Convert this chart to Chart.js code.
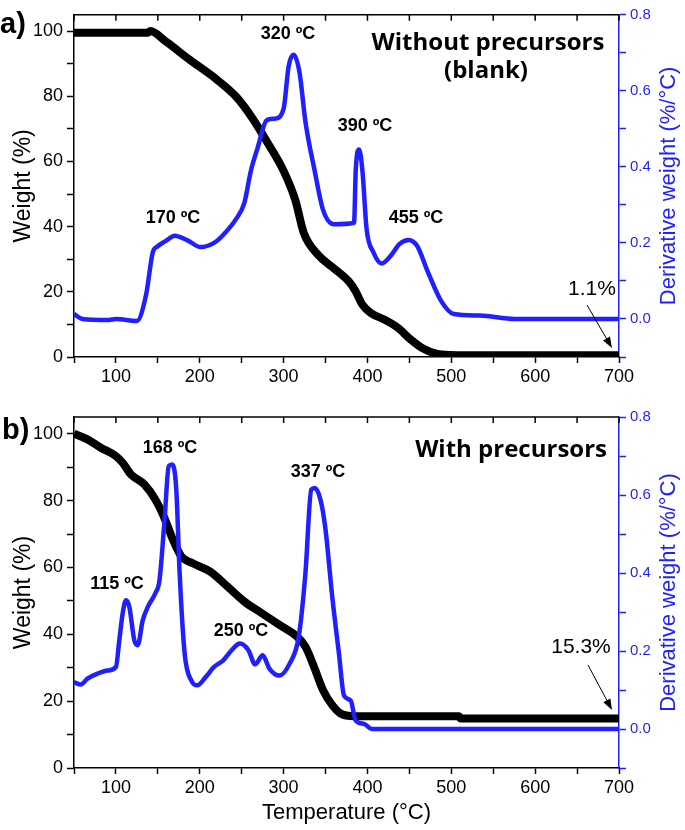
<!DOCTYPE html>
<html>
<head>
<meta charset="utf-8">
<script src="https://cdn.jsdelivr.net/npm/chart.js@4.4.1/dist/chart.umd.min.js"></script>
<style>
  body { margin: 0; background: #fff; }
  #wrap { position: relative; width: 685px; height: 830px; }
  canvas { position: absolute; left: 0; }
</style>
</head>
<body>
<div id="wrap">
  <canvas id="chartA" width="685" height="395" style="top:0"></canvas>
  <canvas id="chartB" width="685" height="435" style="top:395px"></canvas>
</div>
<script>
// a) without precursors (blank)
const weightTempA = [50, 100, 138, 141, 160, 188, 220, 244, 263, 280, 300, 314, 324, 342, 358, 378, 386, 394, 404, 420, 436, 451, 467, 482, 498, 550, 620, 700];
const weightA     = [99.5, 99.5, 99.5, 100, 96.7, 91.2, 85.2, 79.7, 73.2, 66.1, 57.1, 48.1, 38.1, 31.1, 27.6, 23.1, 20.1, 16.0, 13.5, 11.5, 9.0, 5.5, 2.5, 1.0, 0.6, 0.5, 0.5, 0.5];
const derivTempA  = [50, 60, 90, 100, 125, 136, 144, 149, 160, 170, 186, 201, 217, 227, 243, 253, 261, 269, 280, 290, 300, 306, 312, 319, 326, 337, 347, 360, 384, 386, 390, 394, 399, 407, 417, 428, 438, 449, 459, 472, 488, 503, 534, 576, 700];
const derivA      = [0.013, 0.0, -0.003, 0.0, -0.005, 0.064, 0.176, 0.19, 0.206, 0.219, 0.206, 0.189, 0.2, 0.219, 0.262, 0.304, 0.39, 0.45, 0.523, 0.527, 0.553, 0.665, 0.695, 0.648, 0.519, 0.39, 0.287, 0.249, 0.253, 0.39, 0.446, 0.39, 0.236, 0.176, 0.146, 0.167, 0.197, 0.208, 0.193, 0.124, 0.047, 0.013, 0.009, 0.0, 0.0];

// b) with precursors
const weightTempB = [50, 66, 82, 100, 108, 118, 134, 147, 157, 168, 178, 191, 212, 233, 253, 274, 295, 316, 326, 337, 347, 358, 368, 384, 509, 511, 700];
const weightB     = [100, 98.3, 95.8, 93.3, 91.3, 87.8, 84.8, 80.3, 75.3, 68.3, 63.3, 61.3, 58.8, 54.3, 49.8, 46.3, 42.8, 39.3, 36.3, 29.8, 23.3, 18.8, 16.3, 15.5, 15.5, 14.8, 14.8];
const derivTempB  = [50, 58, 66, 78, 90, 100, 104, 108, 112, 116, 122, 126, 132, 138, 147, 152, 158, 163, 167, 172, 176, 182, 190, 197, 207, 217, 228, 238, 248, 258, 266, 275, 283, 295, 307, 318, 326, 333, 337, 344, 350, 358, 366, 372, 380, 386, 396, 405, 700];
const derivB      = [0.12, 0.114, 0.129, 0.142, 0.15, 0.159, 0.227, 0.296, 0.33, 0.313, 0.227, 0.215, 0.279, 0.313, 0.348, 0.382, 0.536, 0.674, 0.678, 0.614, 0.399, 0.193, 0.124, 0.112, 0.133, 0.159, 0.176, 0.202, 0.219, 0.202, 0.166, 0.189, 0.155, 0.137, 0.167, 0.236, 0.399, 0.614, 0.618, 0.588, 0.511, 0.339, 0.193, 0.086, 0.073, 0.021, 0.013, 0.0, 0.0];

// axis ticks
const tempTicks = [100, 200, 300, 400, 500, 600, 700];
const weightTicks = [0, 20, 40, 60, 80, 100];
const derivTicks = [0.0, 0.2, 0.4, 0.6, 0.8];

const BLUE = '#1f1fff';
const SANS = '"Liberation Sans", Arial, sans-serif';
const NARROW = '"Liberation Sans Narrow", "Arial Narrow", ' + SANS;

function toPoints(xs, ys) {
    return xs.map((x, i) => ({ x: x, y: ys[i] }));
}

// extra bits Chart.js doesn't do: top frame, right title read bottom-up, labels, arrows
const panelDecor = {
    id: 'panelDecor',
    afterDraw(chart, args, opts) {
        const ctx = chart.ctx;
        const area = chart.chartArea;
        const xs = chart.scales.x;
        ctx.save();

        ctx.strokeStyle = '#000';
        ctx.lineWidth = 1.5;
        ctx.beginPath();
        ctx.moveTo(area.left, area.top);
        ctx.lineTo(area.right, area.top);
        xs.ticks.forEach(t => {
            const px = xs.getPixelForValue(t.value);
            ctx.moveTo(px, area.top);
            ctx.lineTo(px, area.top + 6);
        });
        ctx.stroke();

        ctx.save();
        ctx.translate(669, (area.top + area.bottom) / 2);
        ctx.rotate(-Math.PI / 2);
        ctx.fillStyle = BLUE;
        ctx.font = '22px ' + SANS;
        ctx.textAlign = 'center';
        ctx.textBaseline = 'middle';
        ctx.fillText('Derivative weight (%/°C)', 0, 0);
        ctx.restore();

        ctx.fillStyle = '#000';
        ctx.textAlign = 'left';
        ctx.textBaseline = 'middle';
        ctx.font = 'bold 29px ' + SANS;
        ctx.fillText(opts.letter, opts.letterX, opts.letterY);

        ctx.textAlign = 'center';
        ctx.font = 'bold 18px ' + NARROW;
        opts.peaks.forEach(p => ctx.fillText(p.text, p.x, p.y));

        ctx.font = '21px ' + SANS;
        ctx.fillText(opts.residue.text, opts.residue.x, opts.residue.y);

        ctx.textBaseline = 'alphabetic';
        ctx.font = 'bold 24px "Open Sans", ' + SANS;
        opts.titles.forEach(t => {
            ctx.textAlign = t.align;
            ctx.fillText(t.text, t.x, t.y);
        });

        const a = opts.arrow;
        const ang = Math.atan2(a.y2 - a.y1, a.x2 - a.x1);
        ctx.lineWidth = 1;
        ctx.beginPath();
        ctx.moveTo(a.x1, a.y1);
        ctx.lineTo(a.x2 - 9 * Math.cos(ang), a.y2 - 9 * Math.sin(ang));
        ctx.stroke();
        ctx.beginPath();
        ctx.moveTo(a.x2, a.y2);
        ctx.lineTo(a.x2 - 11 * Math.cos(ang) + 4 * Math.sin(ang), a.y2 - 11 * Math.sin(ang) - 4 * Math.cos(ang));
        ctx.lineTo(a.x2 - 11 * Math.cos(ang) - 4 * Math.sin(ang), a.y2 - 11 * Math.sin(ang) + 4 * Math.cos(ang));
        ctx.closePath();
        ctx.fill();

        ctx.restore();
    }
};

class TgaPanel {
    constructor(canvasId, weightPts, derivPts, decor, layout) {
        this.ctx = document.getElementById(canvasId);
        this.weightPts = weightPts;
        this.derivPts = derivPts;
        this.decor = decor;
        this.layout = layout;
    }

    draw() {
        const lay = this.layout;
        const config = {
            type: 'line',
            data: {
                datasets: [{
                    label: 'Derivative weight',
                    data: this.derivPts,
                    yAxisID: 'y1',
                    borderColor: BLUE,
                    borderWidth: 4.5,
                    pointRadius: 0,
                    cubicInterpolationMode: 'monotone',
                    order: 0
                }, {
                    label: 'Weight',
                    data: this.weightPts,
                    yAxisID: 'y',
                    borderColor: '#000',
                    borderWidth: 8,
                    pointRadius: 0,
                    cubicInterpolationMode: 'monotone',
                    order: 1
                }]
            },
            options: {
                responsive: false,
                animation: false,
                devicePixelRatio: 1,
                layout: { padding: { top: lay.top, left: 0, right: 0, bottom: 0 } },
                plugins: {
                    legend: { display: false },
                    tooltip: { enabled: false },
                    panelDecor: this.decor
                },
                scales: {
                    x: {
                        type: 'linear',
                        min: 50,
                        max: 700,
                        afterFit: s => { s.height = lay.xHeight; },
                        ticks: {
                            stepSize: 50,
                            autoSkip: false,
                            maxRotation: 0,
                            padding: 3,
                            color: '#000',
                            font: { size: 18, family: SANS },
                            callback: v => tempTicks.includes(v) ? String(v) : ''
                        },
                        grid: { drawOnChartArea: false, tickLength: 6, tickColor: '#000', tickWidth: 1.5 },
                        border: { color: '#000', width: 1.5 },
                        title: {
                            display: lay.showXTitle,
                            text: 'Temperature (°C)',
                            color: '#000',
                            font: { size: 22, family: SANS },
                            padding: { top: 0, bottom: 4 }
                        }
                    },
                    y: {
                        position: 'left',
                        min: 0,
                        max: 105,
                        afterFit: s => { s.width = 74; },
                        ticks: {
                            stepSize: 10,
                            includeBounds: false,
                            autoSkip: false,
                            padding: 4,
                            color: '#000',
                            font: { size: 18, family: SANS },
                            callback: v => weightTicks.includes(v) ? String(v) : ''
                        },
                        grid: { drawOnChartArea: false, tickLength: 7, tickColor: '#000', tickWidth: 1.5 },
                        border: { color: '#000', width: 1.5 },
                        title: {
                            display: true,
                            text: 'Weight (%)',
                            color: '#000',
                            font: { size: 23, family: SANS },
                            padding: { top: 10, bottom: 0 }
                        }
                    },
                    y1: {
                        position: 'right',
                        min: -0.1,
                        max: 0.8,
                        afterFit: s => { s.width = 66; },
                        ticks: {
                            stepSize: 0.1,
                            includeBounds: false,
                            autoSkip: false,
                            padding: 4,
                            color: BLUE,
                            font: { size: 15, family: SANS },
                            callback: v => {
                                const k = Math.round(v * 10) / 10;
                                return derivTicks.includes(k) ? k.toFixed(1) : '';
                            }
                        },
                        grid: { drawOnChartArea: false, tickLength: 7, tickColor: BLUE, tickWidth: 1.5 },
                        border: { color: BLUE, width: 1.5 }
                    }
                }
            },
            plugins: [panelDecor]
        };
        new Chart(this.ctx, config);
    }
}

new TgaPanel('chartA', toPoints(weightTempA, weightA), toPoints(derivTempA, derivA), {
    letter: 'a)', letterX: 0, letterY: 25,
    peaks: [
        { text: '320 ºC', x: 288, y: 34 },
        { text: '170 ºC', x: 173, y: 218 },
        { text: '390 ºC', x: 365, y: 126 },
        { text: '455 ºC', x: 416, y: 218 }
    ],
    residue: { text: '1.1%', x: 592, y: 289 },
    arrow: { x1: 587, y1: 305, x2: 612, y2: 348 },
    titles: [
        { text: 'Without precursors', x: 488, y: 50, align: 'center' },
        { text: '(blank)', x: 486, y: 78, align: 'center' }
    ]
}, { top: 7, xHeight: 38, showXTitle: false }).draw();

new TgaPanel('chartB', toPoints(weightTempB, weightB), toPoints(derivTempB, derivB), {
    letter: 'b)', letterX: 2, letterY: 36,
    peaks: [
        { text: '168 ºC', x: 170, y: 53 },
        { text: '337 ºC', x: 318, y: 77 },
        { text: '115 ºC', x: 117, y: 189 },
        { text: '250 ºC', x: 241, y: 236 }
    ],
    residue: { text: '15.3%', x: 581, y: 252 },
    arrow: { x1: 588, y1: 270, x2: 612, y2: 315 },
    titles: [
        { text: 'With precursors', x: 607, y: 62, align: 'right' }
    ]
}, { top: 22, xHeight: 62, showXTitle: true }).draw();
</script>
</body>
</html>
